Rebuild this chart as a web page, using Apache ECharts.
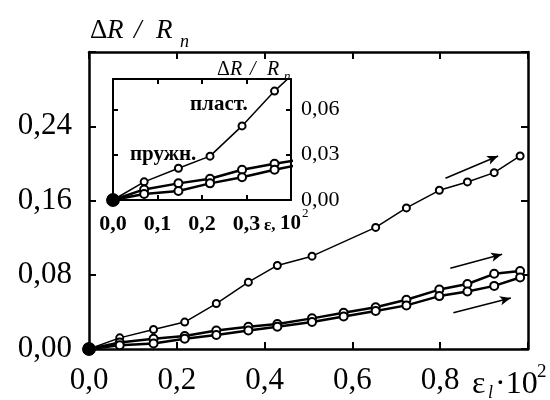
<!DOCTYPE html>
<html>
<head>
<meta charset="utf-8">
<script src="https://cdn.jsdelivr.net/npm/echarts@6/dist/echarts.min.js"></script>
<style>html,body{margin:0;background:#fff}#chart{width:550px;height:400px}</style>
</head>
<body>
<div id="chart"></div>
<script>
// деформация e*10^2 и dR/Rп
var strainPlast = [0, 0.070, 0.147, 0.218, 0.290, 0.363, 0.429, 0.508, 0.653, 0.723, 0.798, 0.862, 0.923, 0.982];
var resPlast = [0, 0.012, 0.021, 0.029, 0.049, 0.072, 0.090, 0.100, 0.131, 0.152, 0.171, 0.180, 0.190, 0.208];
var strainSpring = [0, 0.070, 0.147, 0.218, 0.290, 0.363, 0.429, 0.508, 0.580, 0.653, 0.723, 0.798, 0.862, 0.923, 0.982];
var resSpringA = [0, 0.007, 0.011, 0.014, 0.020, 0.024, 0.027, 0.033, 0.039, 0.045, 0.053, 0.064, 0.070, 0.081, 0.084];
var resSpringB = [0, 0.004, 0.006, 0.011, 0.015, 0.020, 0.024, 0.029, 0.035, 0.041, 0.047, 0.057, 0.062, 0.068, 0.077];

var mainXTicks = [0, 0.2, 0.4, 0.6, 0.8];
var mainYTicks = [0, 0.08, 0.16, 0.24];
var insetXTicks = [0, 0.1, 0.2, 0.3];
var insetYTicks = [0, 0.03, 0.06];

// стрелки у концов кривых: x0, y0, x1, y1
var arrows = [
    [0.812, 0.184, 0.932, 0.208],
    [0.823, 0.087, 0.941, 0.102],
    [0.830, 0.039, 0.961, 0.055]
];

var serif = 'Liberation Serif';

function pick(ticks, digits) {
    return function (v) {
        for (var i = 0; i < ticks.length; i++) {
            if (Math.abs(v - ticks[i]) < 1e-6) return v.toFixed(digits).replace('.', ',');
        }
        return '';
    };
}

function pts(xs, ys) {
    return xs.map(function (x, i) {
        if (i === 0) return { value: [x, ys[i]], symbol: 'circle', symbolSize: 11 };
        return [x, ys[i]];
    });
}

function axis(grid, pos, max, interval, label) {
    return {
        type: 'value', gridIndex: grid, position: pos, min: 0, max: max, interval: interval,
        axisLine: { show: true, onZero: false, lineStyle: { color: '#000', width: grid === 0 ? 2.5 : 2 } },
        axisTick: { show: true, inside: true, length: grid === 0 ? 7 : 5, lineStyle: { color: '#000', width: 2 } },
        axisLabel: label || { show: false },
        splitLine: { show: false }
    };
}

function curve(xi, yi, xs, ys, bold, marks) {
    var s = {
        type: 'line', xAxisIndex: xi, yAxisIndex: yi,
        data: pts(xs, ys),
        symbol: 'emptyCircle', symbolSize: bold ? 8 : 7,
        lineStyle: { color: '#000', width: bold ? 2.5 : 1.5 },
        itemStyle: { color: '#000', borderColor: '#000', borderWidth: bold ? 2.5 : 1.5 },
        clip: true, silent: true
    };
    if (marks) s.markLine = marks;
    return s;
}

var arrowMarks = {
    silent: true,
    symbol: ['none', 'arrow'],
    symbolSize: [7, 11],
    label: { show: false },
    lineStyle: { color: '#000', width: 1.5, type: 'solid' },
    data: arrows.map(function (a) { return [{ coord: [a[0], a[1]] }, { coord: [a[2], a[3]] }]; })
};

function txt(x, y, s, font) {
    return { type: 'text', x: x, y: y, style: { text: s, font: font + ' ' + serif, fill: '#000', verticalAlign: 'middle' } };
}

var myChart = echarts.init(document.getElementById('chart'), null, { renderer: 'canvas' });

var option = {
    animation: false,
    backgroundColor: '#fff',
    grid: [
        { left: 89, top: 52, right: 22, bottom: 51 },
        { left: 113, top: 79, right: 259, bottom: 200 }
    ],
    xAxis: [
        axis(0, 'bottom', 1, 0.2, { formatter: pick(mainXTicks, 1), fontSize: 31, fontFamily: serif, color: '#000', margin: 16 }),
        axis(0, 'top', 1, 0.2),
        axis(1, 'bottom', 0.4, 0.1, { formatter: pick(insetXTicks, 1), fontSize: 22, fontWeight: 'bold', fontFamily: serif, color: '#000', margin: 13 }),
        axis(1, 'top', 0.4, 0.1)
    ],
    yAxis: [
        axis(0, 'left', 0.32, 0.08, { formatter: pick(mainYTicks, 2), fontSize: 31, fontFamily: serif, color: '#000', margin: 17 }),
        axis(0, 'right', 0.32, 0.08),
        axis(1, 'right', 0.08, 0.03, { formatter: pick(insetYTicks, 2), fontSize: 22, fontFamily: serif, color: '#000', margin: 10 }),
        axis(1, 'left', 0.08, 0.03)
    ],
    series: [
        curve(0, 0, strainPlast, resPlast, false, arrowMarks),
        curve(0, 0, strainSpring, resSpringA, true),
        curve(0, 0, strainSpring, resSpringB, true),
        curve(2, 2, strainPlast, resPlast, false),
        curve(2, 2, strainSpring, resSpringA, true),
        curve(2, 2, strainSpring, resSpringB, true)
    ],
    graphic: [
        txt(90, 31, 'Δ', '27px'),
        txt(107, 31, 'R', 'italic 27px'),
        txt(134, 31, '/', 'italic 27px'),
        txt(156, 31, 'R', 'italic 27px'),
        txt(180, 42, 'п', 'italic 18px'),

        txt(217, 70, 'Δ', '20px'),
        txt(230, 70, 'R', 'italic 20px'),
        txt(250, 70, '/', 'italic 20px'),
        txt(267, 70, 'R', 'italic 20px'),
        txt(284, 77, 'п', 'italic 13px'),

        txt(472, 385, 'ε', '32px'),
        txt(488, 393, 'l', 'italic 18px'),
        txt(495, 385, '·10', '32px'),
        txt(537, 372, '2', '19px'),

        txt(264, 226, 'ε,', 'bold 17px'),
        txt(280, 224, '10', 'bold 21px'),
        txt(302, 214, '2', '13px'),

        txt(190, 105, 'пласт.', 'bold 21px'),
        txt(130, 155, 'пружн.', 'bold 21px')
    ]
};

myChart.setOption(option);
window.addEventListener('resize', myChart.resize);
</script>
</body>
</html>
